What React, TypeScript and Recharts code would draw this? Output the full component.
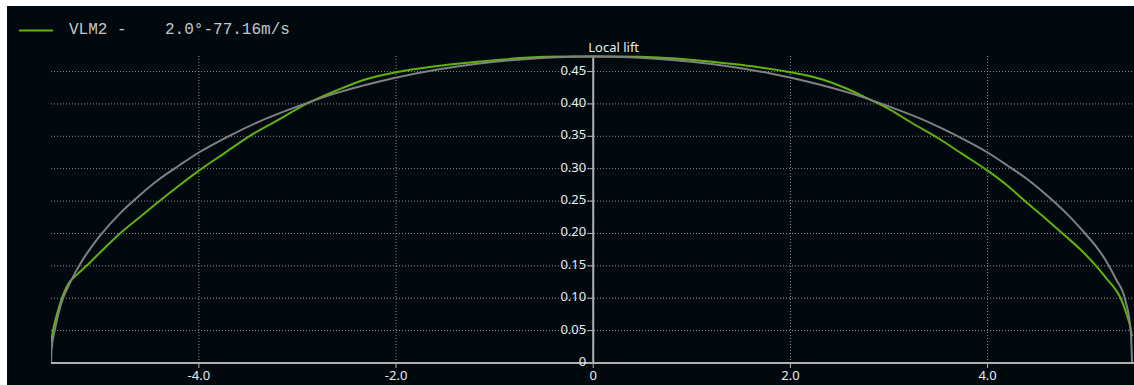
import { CartesianGrid, Line, LineChart, ReferenceDot, ReferenceLine, XAxis, YAxis } from "recharts";

// Spanwise stations (m) and local lift coefficient for the VLM2 run
const vlmSpan = [
  -5.5, -5.48, -5.44, -5.39, -5.33, -5.24, -5.14, -5.0, -4.8, -4.6, -4.4, -4.2, -4.0, -3.75, -3.49, -3.2, -2.91,
  -2.6, -2.33, -2.0, -1.66, -1.15, -0.48, 0, 0.48, 0.74, 1.15, 1.42, 1.66, 2.0, 2.3, 2.55, 2.75, 2.9, 3.0, 3.25, 3.5,
  3.75, 4.0, 4.2, 4.35, 4.55, 4.76, 4.95, 5.1, 5.22, 5.3, 5.35, 5.4, 5.455, 5.465,
];
const vlmLift = [
  0.031, 0.05, 0.075, 0.1, 0.121, 0.136, 0.15, 0.171, 0.2, 0.225, 0.25, 0.274, 0.297, 0.323, 0.35, 0.375, 0.4,
  0.421, 0.437, 0.449, 0.457, 0.4655, 0.4727, 0.4735, 0.4727, 0.471, 0.466, 0.4615, 0.457, 0.449, 0.439, 0.425,
  0.411, 0.4, 0.392, 0.369, 0.347, 0.322, 0.297, 0.274, 0.254, 0.228, 0.2, 0.174, 0.15, 0.128, 0.113, 0.1, 0.08,
  0.05, 0.041,
];

// Elliptic reference distribution
const ellSpan = [
  -5.5, -5.495, -5.46, -5.4, -5.3, -5.2, -5.1, -5.0, -4.8, -4.6, -4.4, -4.2, -4.0, -3.7, -3.4, -3.0, -2.6, -2.2,
  -1.8, -1.4, -1.0, -0.6, -0.2, 0.2, 0.6, 1.0, 1.4, 1.8, 2.2, 2.6, 3.0, 3.4, 3.7, 4.0, 4.2, 4.4, 4.6, 4.8, 5.0,
  5.1, 5.2, 5.3, 5.4, 5.45, 5.46, 5.465,
];
const ellLift = [
  0, 0.02, 0.052, 0.09, 0.126, 0.154, 0.177, 0.197, 0.231, 0.259, 0.284, 0.305, 0.325, 0.35, 0.372, 0.396, 0.417,
  0.4335, 0.447, 0.4574, 0.4651, 0.4702, 0.4727, 0.4727, 0.4702, 0.4651, 0.4574, 0.447, 0.4335, 0.417, 0.396,
  0.372, 0.35, 0.325, 0.305, 0.284, 0.259, 0.231, 0.198, 0.18, 0.158, 0.13, 0.095, 0.052, 0.025, 0,
];

const spanTicks = [-4, -2, 0, 2, 4];
const liftTicks = [0, 0.05, 0.1, 0.15, 0.2, 0.25, 0.3, 0.35, 0.4, 0.45];
const liftLabels = ["0", "0.05", "0.10", "0.15", "0.20", "0.25", "0.30", "0.35", "0.40", "0.45"];
const axisTitle = "Local lift";
const legendLabel = "VLM2 -    2.0°-77.16m/s";

const W = 1134;
const H = 385;
const BG = "#02090e";
const AXIS = "#b0b0b0";
const TEXT = "#e6edf2";
const GREEN = "#5fb30c";
const GREY = "#808080";
const FONT = '"Noto Sans", Tahoma, sans-serif';

const vlmData = vlmSpan.map((x, i) => ({ x, lift: vlmLift[i] }));
const ellData = ellSpan.map((x, i) => ({ x, lift: ellLift[i] }));

const spanFmt = (v: number) => (v === 0 ? "0" : v.toFixed(1));

// tick + label drawn on the centre axis (the y axis sits at span = 0)
function LiftTick({ cx, cy, text }: { cx?: number; cy?: number; text: string }) {
  if (cx == null || cy == null) return null;
  return (
    <g>
      <line x1={cx - 6} y1={cy} x2={cx} y2={cy} stroke={AXIS} strokeWidth={1} />
      <text x={cx - 7} y={cy + 3} textAnchor="end" fill={TEXT} fontSize={13} fontFamily={FONT}>
        {text}
      </text>
    </g>
  );
}

function AxisTitle({ cx, cy }: { cx?: number; cy?: number }) {
  if (cx == null || cy == null) return null;
  return (
    <text x={cx - 5} y={cy - 4} fill={TEXT} fontSize={13} fontFamily={FONT}>
      {axisTitle}
    </text>
  );
}

export default function App() {
  return (
    <div style={{ position: "fixed", left: 0, top: 0, width: W, height: H, background: "#fff", overflow: "hidden" }}>
      <div style={{ position: "absolute", left: 7, top: 6, right: 0, bottom: 0, background: BG }} />
      <svg width={W} height={H} style={{ position: "absolute", left: 0, top: 0 }}>
        <line x1={19} y1={30.5} x2={53} y2={30.5} stroke={GREEN} strokeWidth={2} />
        <text
          x={69}
          y={33.5}
          fill="#c4c7ca"
          fontSize={16}
          fontFamily='"Liberation Mono", "DejaVu Sans Mono", monospace'
          xmlSpace="preserve"
          style={{ whiteSpace: "pre" }}
        >
          {legendLabel}
        </text>
      </svg>
      <div style={{ position: "absolute", left: 0, top: 0 }}>
        <LineChart width={W} height={H} margin={{ top: 56, right: 0, bottom: 0, left: 51 }}>
          {/* grid follows the explicit ticks only, nothing along the plot border */}
          <CartesianGrid stroke="#8a8f94" strokeDasharray="1 2" strokeWidth={1} syncWithTicks />
          <XAxis
            type="number"
            dataKey="x"
            domain={[-5.5, 5.485]}
            ticks={spanTicks}
            tickFormatter={spanFmt}
            height={22}
            axisLine={{ stroke: AXIS, strokeWidth: 2 }}
            tickLine={{ stroke: AXIS }}
            tickSize={5}
            tickMargin={3}
            tick={{ fill: TEXT, fontSize: 13, fontFamily: FONT }}
            allowDataOverflow
          />
          <YAxis type="number" domain={[0, 0.474]} ticks={liftTicks} hide />
          <ReferenceLine x={0} stroke={AXIS} strokeWidth={2} />
          <Line
            data={vlmData}
            dataKey="lift"
            type="monotone"
            stroke={GREEN}
            strokeWidth={2}
            dot={false}
            isAnimationActive={false}
          />
          <Line
            data={ellData}
            dataKey="lift"
            type="monotone"
            stroke={GREY}
            strokeWidth={2}
            dot={false}
            isAnimationActive={false}
          />
          {liftTicks.map((v, i) => (
            <ReferenceDot
              key={v}
              x={0}
              y={v}
              r={0}
              shape={(p: { cx?: number; cy?: number }) => <LiftTick cx={p.cx} cy={p.cy} text={liftLabels[i]} />}
            />
          ))}
          <ReferenceDot x={0} y={0.474} r={0} shape={(p: { cx?: number; cy?: number }) => <AxisTitle cx={p.cx} cy={p.cy} />} />
        </LineChart>
      </div>
    </div>
  );
}
